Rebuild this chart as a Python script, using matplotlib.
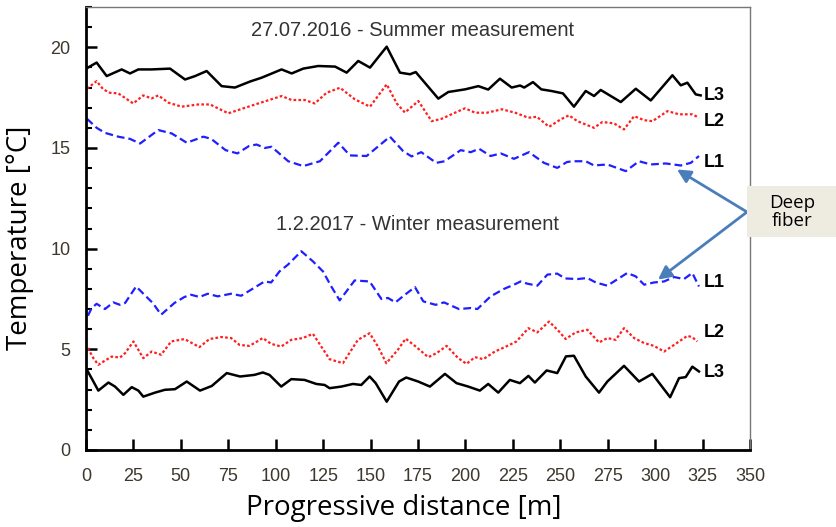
import matplotlib
matplotlib.use("Agg")
import matplotlib.pyplot as plt
from matplotlib.patches import Rectangle

# --- data (distance [m], temperature [degC]) ---
summer_l3_x = [0.5, 5.6, 10.9, 18.8, 23.2, 27.6, 34.6, 44.3, 52.2, 57.5, 63.6, 71.5, 78.5, 86.5,
               92.6, 103.1, 108.4, 114.5, 122.4, 131.3, 137.4, 143.5, 149.7, 158.5, 165.5, 170.8,
               173.8, 185.7, 191.0, 199.8, 206.8, 212.0, 218.2, 224.4, 228.8, 231.0, 235.6, 240.0,
               245.3, 251.4, 257.2, 263.4, 267.8, 271.3, 281.9, 289.8, 297.7, 309.1, 313.5, 317.0,
               321.4, 324.0]
summer_l3_y = [18.96, 19.24, 18.57, 18.90, 18.70, 18.90, 18.90, 18.94, 18.40, 18.57, 18.82, 18.07,
               18.00, 18.30, 18.49, 18.90, 18.70, 18.94, 19.07, 19.04, 18.74, 19.32, 18.99, 20.03,
               18.74, 18.66, 18.77, 17.45, 17.78, 17.91, 18.07, 17.90, 18.44, 18.00, 18.10, 18.00,
               18.27, 17.91, 17.83, 17.71, 17.05, 17.83, 17.58, 17.88, 17.28, 17.94, 17.36, 18.61,
               18.11, 18.24, 17.66, 17.61]

summer_l2_x = [0.5, 5.6, 9.1, 12.6, 17.0, 24.9, 30.2, 34.6, 38.1, 43.4, 50.4, 59.2, 65.4, 75.0,
               84.0, 90.8, 103.1, 108.4, 115.4, 120.6, 126.8, 133.9, 141.8, 149.7, 158.5, 163.8,
               168.1, 175.2, 182.2, 187.5, 194.5, 199.8, 205.1, 211.3, 219.2, 226.2, 233.2, 237.6,
               244.1, 250.2, 254.6, 259.0, 267.8, 272.2, 278.3, 283.6, 288.9, 294.2, 298.6, 306.5,
               312.6, 319.6, 323.1]
summer_l2_y = [17.94, 18.32, 17.91, 17.74, 17.71, 17.21, 17.61, 17.46, 17.61, 17.25, 17.05, 17.16,
               17.16, 16.72, 17.00, 17.21, 17.58, 17.38, 17.38, 17.21, 17.74, 17.99, 17.41, 17.05,
               18.16, 17.21, 16.76, 17.33, 16.33, 16.45, 16.75, 16.97, 16.75, 16.75, 16.92, 16.75,
               16.50, 16.55, 16.05, 16.42, 16.62, 16.33, 16.00, 16.29, 16.22, 15.92, 16.58, 16.38,
               16.33, 16.83, 16.67, 16.67, 16.50]

summer_l1_x = [0.5, 5.6, 10.0, 17.0, 23.2, 28.5, 38.1, 45.2, 53.1, 61.9, 66.0, 73.6, 79.8, 86.0,
               89.9, 94.3, 97.8, 106.6, 114.5, 123.3, 133.0, 139.1, 147.9, 160.2, 167.2, 171.6,
               176.7, 184.6, 189.0, 197.5, 202.8, 207.2, 213.3, 218.6, 225.6, 233.5, 241.4, 248.4,
               253.5, 256.4, 263.4, 267.8, 274.8, 284.5, 291.5, 297.7, 305.6, 313.5, 318.8, 323.1]
summer_l1_y = [16.45, 16.00, 15.75, 15.56, 15.45, 15.22, 15.89, 15.72, 15.26, 15.56, 15.45, 14.89,
               14.73, 15.10, 15.17, 15.00, 15.06, 14.34, 14.10, 14.34, 15.26, 14.63, 14.60, 15.56,
               14.84, 14.58, 14.79, 14.26, 14.34, 14.89, 14.79, 14.96, 14.60, 14.73, 14.46, 14.79,
               14.26, 14.01, 14.30, 14.34, 14.34, 14.13, 14.18, 13.85, 14.34, 14.18, 14.23, 14.13,
               14.26, 14.60]

winter_l1_x = [1.0, 3.0, 5.6, 10.0, 14.4, 17.9, 20.6, 26.4, 32.5, 35.2, 39.6, 46.6, 51.9, 55.4,
               59.8, 64.2, 69.4, 76.5, 81.8, 86.0, 94.1, 97.6, 102.0, 106.4, 113.5, 119.6, 124.9,
               129.3, 133.7, 141.6, 149.5, 155.7, 159.2, 163.1, 168.1, 173.4, 177.8, 184.3, 188.7,
               196.6, 202.8, 206.3, 213.3, 220.3, 225.6, 229.1, 232.6, 237.9, 243.2, 248.4, 252.5,
               259.0, 264.3, 268.7, 274.8, 285.3, 289.8, 294.2, 299.4, 304.7, 310.0, 315.2, 319.6,
               323.1]
winter_l1_y = [6.67, 7.05, 7.26, 7.00, 7.33, 7.21, 7.30, 8.12, 7.55, 7.30, 6.72, 7.30, 7.60, 7.71,
               7.60, 7.76, 7.63, 7.76, 7.66, 7.90, 8.37, 8.32, 8.87, 9.20, 9.87, 9.37, 8.87, 8.12,
               7.43, 8.42, 8.37, 7.50, 7.55, 7.33, 7.71, 8.09, 7.38, 7.21, 7.33, 7.00, 7.05, 7.00,
               7.63, 8.00, 8.21, 8.37, 8.26, 8.16, 8.71, 8.76, 8.52, 8.49, 8.54, 8.32, 8.16, 8.79,
               8.62, 8.21, 8.32, 8.37, 8.59, 8.49, 8.79, 8.12]

winter_l2_x = [1.0, 3.9, 6.5, 10.0, 13.5, 17.9, 20.6, 25.0, 30.2, 34.6, 39.6, 44.9, 51.9, 59.8,
               65.1, 71.3, 76.5, 80.9, 86.0, 88.8, 93.2, 97.6, 102.9, 108.2, 114.3, 119.6, 124.0,
               128.4, 135.4, 143.3, 149.5, 153.9, 158.3, 164.4, 168.5, 173.4, 180.4, 184.8, 190.1,
               196.2, 200.6, 205.0, 209.4, 215.5, 220.8, 226.9, 233.2, 237.9, 244.1, 249.3, 252.8,
               258.1, 264.3, 270.4, 274.8, 279.2, 283.6, 288.9, 294.2, 299.4, 304.7, 310.0, 317.0,
               319.6, 322.2]
winter_l2_y = [5.06, 4.56, 4.23, 4.44, 4.64, 4.59, 4.81, 5.39, 4.56, 4.89, 4.73, 5.39, 5.51, 5.11,
               5.51, 5.61, 5.56, 5.22, 5.17, 5.31, 5.56, 5.27, 5.14, 5.47, 5.56, 5.77, 5.14, 4.51,
               4.31, 5.47, 5.80, 5.14, 4.31, 4.98, 5.53, 5.17, 4.61, 4.81, 5.17, 4.56, 4.28, 4.61,
               4.51, 4.89, 5.11, 5.39, 6.05, 5.84, 6.38, 5.89, 5.51, 5.84, 5.97, 5.34, 5.56, 5.47,
               6.05, 5.56, 5.31, 5.17, 4.89, 5.22, 5.67, 5.60, 5.39]

winter_l3_x = [0.5, 3.9, 6.5, 11.8, 15.3, 19.7, 24.1, 27.6, 30.2, 36.4, 41.6, 46.9, 53.1, 60.1,
               66.3, 74.2, 81.2, 88.8, 93.2, 96.7, 102.9, 108.2, 115.2, 121.4, 125.8, 128.4, 134.6,
               140.7, 145.1, 149.5, 152.7, 158.5, 165.0, 168.8, 175.1, 181.3, 189.2, 195.3, 201.5,
               207.6, 212.0, 217.3, 223.4, 228.7, 233.2, 236.6, 242.8, 248.4, 253.0, 257.2, 263.4,
               270.4, 274.8, 283.6, 291.5, 298.5, 307.9, 312.6, 316.1, 319.6, 323.1]
winter_l3_y = [3.98, 3.40, 2.95, 3.35, 3.15, 2.74, 3.12, 2.95, 2.65, 2.85, 2.99, 3.02, 3.40, 2.95,
               3.18, 3.82, 3.65, 3.73, 3.85, 3.73, 3.15, 3.52, 3.48, 3.28, 3.23, 3.07, 3.15, 3.28,
               3.23, 3.65, 3.32, 2.40, 3.40, 3.60, 3.40, 3.15, 3.78, 3.32, 3.15, 2.95, 3.28, 2.85,
               3.48, 3.32, 3.68, 3.35, 3.95, 3.82, 4.65, 4.68, 3.65, 2.85, 3.40, 4.18, 3.40, 3.78,
               2.62, 3.57, 3.62, 4.14, 3.90]

x_ticks = list(range(0, 351, 25))
y_ticks = [0, 5, 10, 15, 20]
summer_title = "27.07.2016 - Summer measurement"
winter_title = "1.2.2017 - Winter measurement"

blue = "#1f1fff"
red = "#ff1f1f"
arrow_col = "#4a7ebb"
tick_col = "#3d372c"

fig = plt.figure(figsize=(8.36, 5.27), dpi=100)
ax = fig.add_axes([86 / 836, 77 / 527, 664 / 836, 443 / 527])

# summer curves
ax.plot(summer_l3_x, summer_l3_y, color="black", lw=1.8, solid_joinstyle="round")
ax.plot(summer_l2_x, summer_l2_y, color=red, lw=1.6, linestyle=(0, (1.2, 1.0)))
ax.plot(summer_l1_x, summer_l1_y, color=blue, lw=1.6, linestyle=(0, (3.5, 1.8)))
# winter curves
ax.plot(winter_l1_x, winter_l1_y, color=blue, lw=1.6, linestyle=(0, (3.5, 1.8)))
ax.plot(winter_l2_x, winter_l2_y, color=red, lw=1.6, linestyle=(0, (1.2, 1.0)))
ax.plot(winter_l3_x, winter_l3_y, color="black", lw=1.8, solid_joinstyle="round")

# line labels
lab_kw = dict(fontsize=13, fontweight="bold", family="Liberation Sans", va="center", ha="left")
ax.text(325.5, 17.6, "L3", **lab_kw)
ax.text(325.5, 16.3, "L2", **lab_kw)
ax.text(325.5, 14.3, "L1", **lab_kw)
ax.text(325.5, 8.3, "L1", **lab_kw)
ax.text(325.5, 5.85, "L2", **lab_kw)
ax.text(325.5, 3.85, "L3", **lab_kw)

# measurement titles
ax.text(172, 20.85, summer_title, fontsize=14.5, family="Liberation Sans", color="#333333",
        ha="center", va="center")
ax.text(174.5, 11.2, winter_title, fontsize=14.5, family="Liberation Sans", color="#333333",
        ha="center", va="center")

ax.set_xlim(0, 350)
ax.set_ylim(0, 22)
ax.set_xticks(x_ticks)
ax.set_yticks(y_ticks)
ax.set_yticks(range(0, 23), minor=True)

ax.tick_params(axis="both", which="major", direction="in", length=8, width=1.8,
               labelsize=13, colors="black", labelcolor=tick_col)
ax.tick_params(axis="y", which="major", pad=11)
ax.tick_params(axis="x", which="major", pad=13)
ax.tick_params(axis="y", which="minor", direction="in", length=4.5, width=1.5, colors="black")
for lbl in ax.get_xticklabels() + ax.get_yticklabels():
    lbl.set_family("Liberation Sans")

ax.spines["left"].set_linewidth(2)
ax.spines["bottom"].set_linewidth(2)
ax.spines["top"].set_linewidth(1)
ax.spines["right"].set_linewidth(1)
ax.spines["top"].set_color("#777777")
ax.spines["right"].set_color("#777777")

ax.set_xlabel("Progressive distance [m]", fontsize=20, family="Open Sans")
ax.set_ylabel("Temperature [°C]", fontsize=20, family="Open Sans")
ax.xaxis.set_label_coords(0.479, -0.100)
ax.yaxis.set_label_coords(-0.079, 0.48)

# "Deep fiber" callout
fig.patches.append(Rectangle((747 / 836, (527 - 237) / 527), 95 / 836, 51 / 527,
                             transform=fig.transFigure, facecolor="#eeece1", edgecolor="none"))
fig.text(792 / 836, (527 - 212) / 527, "Deep\nfiber", fontsize=13.5, family="Open Sans",
         ha="center", va="center", linespacing=1.05)
tail = (747 / 836, (527 - 212) / 527)
for tip in [(311.5, 13.93), (301.5, 8.46)]:
    ax.annotate("", xy=tip, xycoords="data", xytext=tail, textcoords="figure fraction",
                arrowprops=dict(arrowstyle="-|>,head_length=0.8,head_width=0.4",
                                color=arrow_col, lw=2, shrinkA=0, shrinkB=0),
                annotation_clip=False)

fig.savefig("out.png", dpi=100, facecolor="white")
